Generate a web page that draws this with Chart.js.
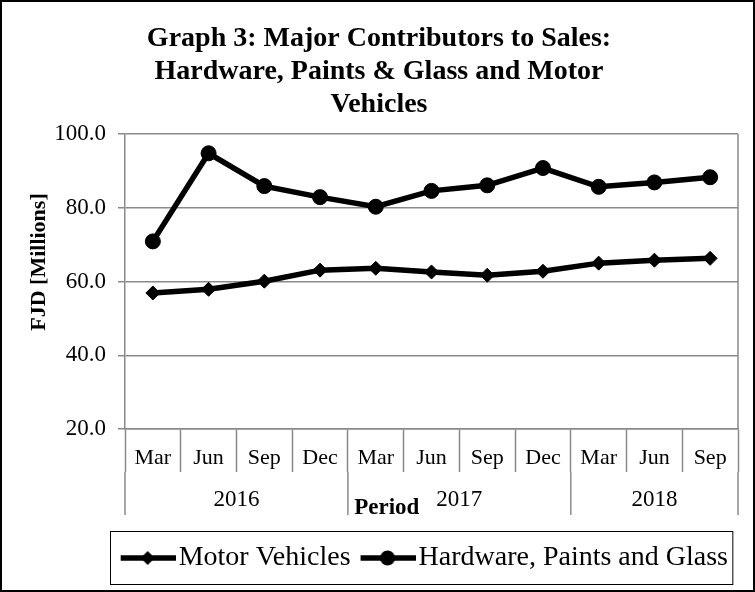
<!DOCTYPE html>
<html>
<head>
<meta charset="utf-8">
<script src="https://cdn.jsdelivr.net/npm/chart.js@4"></script>
<style>
	body { margin: 0; background: #fff; }
	#wrap { width: 755px; height: 592px; }
</style>
</head>
<body>
<div id="wrap"><canvas id="myChart" width="755" height="592"></canvas></div>
<script>
// data
let months = ['Mar','Jun','Sep','Dec','Mar','Jun','Sep','Dec','Mar','Jun','Sep']
let years = ['2016','2017','2018']
let yearSpans = [4,4,3]
let motorVehicles = [56.9,57.9,60.1,63.1,63.6,62.6,61.7,62.8,65.0,65.8,66.3]
let hardwarePaintsGlass = [70.9,94.8,85.9,82.9,80.3,84.6,86.1,90.8,85.7,86.9,88.3]
let yTicks = [20,40,60,80,100]

const FONT = "'Liberation Serif', 'Times New Roman', serif"
const GRID = '#8a8a8a'

function legend_icon(style) {
	let c = document.createElement('canvas')
	c.width = 66
	c.height = 20
	let ctx = c.getContext('2d')
	ctx.strokeStyle = '#000'
	ctx.fillStyle = '#000'
	ctx.lineWidth = 5.5
	ctx.beginPath()
	ctx.moveTo(11,10)
	ctx.lineTo(66,10)
	ctx.stroke()
	ctx.beginPath()
	if (style == 'circle') {
		ctx.arc(38,10,7.5,0,Math.PI*2)
	} else {
		ctx.moveTo(38,3); ctx.lineTo(45,10); ctx.lineTo(38,17); ctx.lineTo(31,10); ctx.closePath()
	}
	ctx.fill()
	return c
}

const frame = {
	id: 'frame',
	beforeDraw(chart) {
		let ctx = chart.ctx
		ctx.save()
		ctx.fillStyle = '#fff'
		ctx.fillRect(0,0,chart.width,chart.height)
		ctx.restore()
	},
	afterDraw(chart) {
		let ctx = chart.ctx
		let area = chart.chartArea
		let x = chart.scales.x
		ctx.save()
		// outer border
		ctx.strokeStyle = '#000'
		ctx.lineWidth = 2
		ctx.strokeRect(1,1,chart.width-2,chart.height-2)
		// right edge of plot
		ctx.strokeStyle = GRID
		ctx.lineWidth = 1.5
		ctx.beginPath()
		ctx.moveTo(area.right,area.top)
		ctx.lineTo(area.right,area.bottom)
		ctx.stroke()
		// year row
		let half = (x.getPixelForValue(1) - x.getPixelForValue(0)) / 2
		let y0 = area.bottom + 43
		let y1 = area.bottom + 86
		let start = 0
		ctx.beginPath()
		ctx.moveTo(x.getPixelForValue(0) - half, y0)
		ctx.lineTo(x.getPixelForValue(0) - half, y1)
		ctx.stroke()
		ctx.fillStyle = '#000'
		ctx.font = '23px ' + FONT
		ctx.textAlign = 'center'
		ctx.textBaseline = 'middle'
		for (let i = 0; i < years.length; i++) {
			let end = start + yearSpans[i] - 1
			let left = x.getPixelForValue(start) - half
			let right = x.getPixelForValue(end) + half
			ctx.beginPath()
			ctx.moveTo(right, y0)
			ctx.lineTo(right, y1)
			ctx.stroke()
			ctx.fillText(years[i], (left + right) / 2, area.bottom + 71)
			start = end + 1
		}
		// axis titles
		ctx.font = 'bold 23px ' + FONT
		ctx.fillText('Period', area.left + (area.right - area.left) * 0.427, area.bottom + 79)
		ctx.translate(39, 262)
		ctx.rotate(-Math.PI / 2)
		ctx.font = 'bold 22px ' + FONT
		ctx.fillText('FJD [Millions]', 0, 0)
		ctx.setTransform(1,0,0,1,0,0)
		// legend box
		let boxes = chart.legend.legendHitBoxes
		if (boxes.length) {
			let l = Math.min(...boxes.map(b => b.left))
			let r = Math.max(...boxes.map(b => b.left + b.width))
			let t = Math.min(...boxes.map(b => b.top))
			let b = Math.max(...boxes.map(b => b.top + b.height))
			ctx.strokeStyle = '#000'
			ctx.lineWidth = 1
			ctx.strokeRect(Math.round(l) - 10.5, Math.round(t) - 12.5, r - l + 15, b - t + 25)
		}
		ctx.restore()
	}
}

new Chart('myChart', {
	type: 'line',
	data: {
		labels: months,
		datasets: [
			{
				label: 'Motor Vehicles',
				data: motorVehicles,
				borderColor: '#000',
				backgroundColor: '#000',
				borderWidth: 5.5,
				pointStyle: 'rectRot',
				pointRadius: 7,
				pointBorderWidth: 1,
				tension: 0
			},
			{
				label: 'Hardware, Paints and Glass',
				data: hardwarePaintsGlass,
				borderColor: '#000',
				backgroundColor: '#000',
				borderWidth: 5.5,
				pointStyle: 'circle',
				pointRadius: 7.5,
				pointBorderWidth: 1,
				tension: 0
			}
		]
	},
	options: {
		responsive: false,
		animation: false,
		layout: { padding: { left: 20, right: 17, top: 0, bottom: 10 } },
		plugins: {
			title: {
				display: true,
				text: ['Graph 3: Major Contributors to Sales:', 'Hardware, Paints & Glass and Motor', 'Vehicles'],
				color: '#000',
				font: { family: FONT, size: 28, weight: 'bold', lineHeight: 1.18 },
				padding: { top: 22, bottom: 13 }
			},
			legend: {
				position: 'bottom',
				align: 'end',
				labels: {
					color: '#000',
					font: { family: FONT, size: 28 },
					usePointStyle: true,
					pointStyleWidth: 44,
					padding: 10,
					generateLabels(chart) {
						return chart.data.datasets.map((ds, i) => ({
							text: ds.label,
							pointStyle: legend_icon(ds.pointStyle),
							fillStyle: '#000',
							strokeStyle: '#000',
							lineWidth: 0,
							fontColor: '#000',
							hidden: false,
							datasetIndex: i
						}))
					}
				}
			},
			tooltip: { enabled: false }
		},
		scales: {
			x: {
				offset: true,
				grid: {
					offset: true,
					drawOnChartArea: false,
					drawTicks: true,
					tickLength: 43,
					tickColor: GRID,
					tickWidth: 1.5,
					color: GRID
				},
				border: { color: GRID, width: 1.5 },
				ticks: {
					color: '#000',
					font: { family: FONT, size: 22 },
					padding: -27,
					maxRotation: 0,
					autoSkip: false
				},
				afterFit(scale) { scale.height = 105 }
			},
			y: {
				min: 20,
				max: 100,
				afterBuildTicks(scale) { scale.ticks = yTicks.map(v => ({ value: v })) },
				grid: { color: GRID, lineWidth: 1.5, tickLength: 7 },
				border: { color: GRID, width: 1.5 },
				ticks: {
					color: '#000',
					font: { family: FONT, size: 23 },
					padding: 12,
					callback: v => v.toFixed(1)
				},
				afterFit(scale) { scale.width = 105 }
			}
		}
	},
	plugins: [frame]
})
</script>
</body>
</html>
